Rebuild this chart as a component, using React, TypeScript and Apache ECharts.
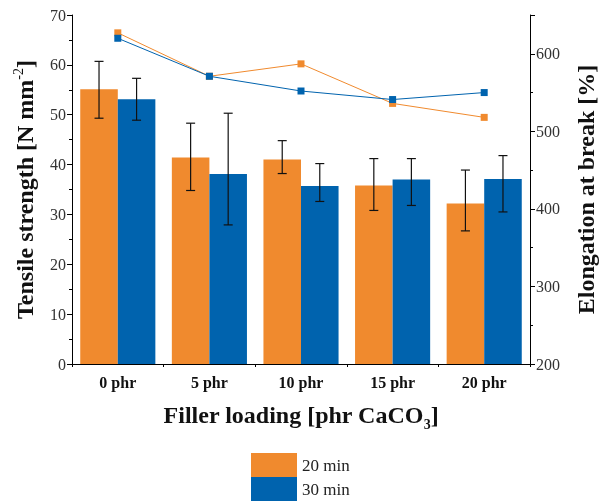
import React, { useEffect, useRef } from "react";
import * as echarts from "echarts";

const categories = ["0 phr", "5 phr", "10 phr", "15 phr", "20 phr"];
const tensile20 = [55.1, 41.4, 41.0, 35.8, 32.2];
const tensile30 = [53.1, 38.1, 35.7, 37.0, 37.1];
const err20Low = [49.3, 34.8, 38.2, 30.8, 26.7];
const err20High = [60.7, 48.3, 44.8, 41.2, 38.9];
const err30Low = [48.9, 27.9, 32.6, 31.8, 30.5];
const err30High = [57.3, 50.3, 40.2, 41.2, 41.8];
const elong20 = [627, 571, 587, 536, 518];
const elong30 = [620, 571, 552, 541, 550];

const ORANGE = "#F08A2E";
const BLUE = "#0063AE";
const FONT = "Liberation Serif";

function errorSeries(low: number[], high: number[], side: number) {
  return {
    type: "custom",
    xAxisIndex: 0,
    yAxisIndex: 0,
    z: 10,
    silent: true,
    data: low.map((l, i) => [i, l, high[i]]),
    encode: { x: 0, y: [1, 2] },
    renderItem: (params: any, api: any) => {
      const xi = api.value(0);
      const bandW = api.size([1, 0])[0];
      const off = (side * bandW * 0.82) / 4;
      const lo = api.coord([xi, api.value(1)]);
      const hi = api.coord([xi, api.value(2)]);
      const x = lo[0] + off;
      const cap = 4.5;
      const style = { stroke: "#111", lineWidth: 1.2 };
      return {
        type: "group",
        children: [
          { type: "line", shape: { x1: x, y1: lo[1], x2: x, y2: hi[1] }, style },
          { type: "line", shape: { x1: x - cap, y1: lo[1], x2: x + cap, y2: lo[1] }, style },
          { type: "line", shape: { x1: x - cap, y1: hi[1], x2: x + cap, y2: hi[1] }, style },
        ],
      };
    },
  };
}

export default function App() {
  const ref = useRef<HTMLDivElement>(null);
  useEffect(() => {
    if (!ref.current) return;
    const chart = echarts.init(ref.current, undefined, { renderer: "svg" });
    const tickLabel = { fontFamily: FONT, fontSize: 16, color: "#333" };
    chart.setOption({
      animation: false,
      textStyle: { fontFamily: FONT },
      grid: { left: 72, right: 74, top: 15, bottom: 137, containLabel: false },
      legend: {
        data: [
          { name: "20 min", icon: "rect" },
          { name: "30 min", icon: "rect" },
        ],
        orient: "vertical",
        left: 251,
        top: 453,
        itemWidth: 46,
        itemHeight: 24,
        itemGap: 0,
        padding: 0,
        selectedMode: false,
        textStyle: { fontFamily: FONT, fontSize: 17, color: "#222" },
      },
      xAxis: [
        {
          type: "category",
          data: categories,
          axisLine: { lineStyle: { color: "#000", width: 1 } },
          axisTick: { alignWithLabel: true, length: 5, lineStyle: { color: "#000" } },
          axisLabel: { fontFamily: FONT, fontSize: 16, fontWeight: "bold", color: "#111", margin: 10 },
          name: "{b|Filler loading [phr CaCO}{s|3}{b|]}",
          nameLocation: "middle",
          nameGap: 35,
          nameTextStyle: {
            rich: {
              b: { fontFamily: FONT, fontSize: 24, fontWeight: "bold", color: "#111", lineHeight: 32 },
              s: { fontFamily: FONT, fontSize: 14, fontWeight: "bold", color: "#111", verticalAlign: "bottom", lineHeight: 32 },
            },
          },
        },
        {
          type: "category",
          data: categories,
          position: "bottom",
          axisLine: { show: false },
          axisTick: { show: true, length: 3, lineStyle: { color: "#000" } },
          axisLabel: { show: false },
        },
      ],
      yAxis: [
        {
          type: "value",
          min: 0,
          max: 70,
          interval: 10,
          position: "left",
          axisLine: { show: true, lineStyle: { color: "#000" } },
          axisTick: { show: true, length: 5, lineStyle: { color: "#000" } },
          minorTick: { show: true, splitNumber: 2, length: 3, lineStyle: { color: "#000" } },
          splitLine: { show: false },
          axisLabel: { ...tickLabel, margin: 6 },
          name: "{b|Tensile strength [N mm}{s|-2}{b|]}",
          nameLocation: "middle",
          nameRotate: 90,
          nameGap: 33,
          nameTextStyle: {
            rich: {
              b: { fontFamily: FONT, fontSize: 24, fontWeight: "bold", color: "#111", lineHeight: 28 },
              s: { fontFamily: FONT, fontSize: 14, color: "#111", verticalAlign: "top", lineHeight: 28 },
            },
          },
        },
        {
          type: "value",
          min: 200,
          max: 650,
          interval: 100,
          position: "right",
          axisLine: { show: true, lineStyle: { color: "#000" } },
          axisTick: { show: true, length: 5, lineStyle: { color: "#000" } },
          minorTick: { show: true, splitNumber: 2, length: 3, lineStyle: { color: "#000" } },
          splitLine: { show: false },
          axisLabel: {
            ...tickLabel,
            margin: 6,
            formatter: (v: number) => (v % 100 === 0 ? String(v) : ""),
          },
          name: "Elongation at break [%]",
          nameLocation: "middle",
          nameRotate: 90,
          nameGap: 44,
          nameTextStyle: { fontFamily: FONT, fontSize: 24, fontWeight: "bold", color: "#111" },
        },
      ],
      series: [
        {
          name: "20 min",
          type: "bar",
          data: tensile20,
          barGap: "0%",
          barCategoryGap: "18%",
          itemStyle: { color: ORANGE },
        },
        {
          name: "30 min",
          type: "bar",
          data: tensile30,
          barGap: "0%",
          barCategoryGap: "18%",
          itemStyle: { color: BLUE },
        },
        errorSeries(err20Low, err20High, -1),
        errorSeries(err30Low, err30High, 1),
        {
          name: "Elongation 20 min",
          type: "line",
          yAxisIndex: 1,
          data: elong20,
          symbol: "rect",
          symbolSize: 7,
          z: 12,
          lineStyle: { color: ORANGE, width: 1 },
          itemStyle: { color: ORANGE },
        },
        {
          name: "Elongation 30 min",
          type: "line",
          yAxisIndex: 1,
          data: elong30,
          symbol: "rect",
          symbolSize: 7,
          z: 13,
          lineStyle: { color: BLUE, width: 1 },
          itemStyle: { color: BLUE },
        },
      ],
    });
    return () => chart.dispose();
  }, []);
  return (
    <div
      ref={ref}
      style={{ position: "fixed", left: 0, top: 0, width: 606, height: 501 }}
    />
  );
}
